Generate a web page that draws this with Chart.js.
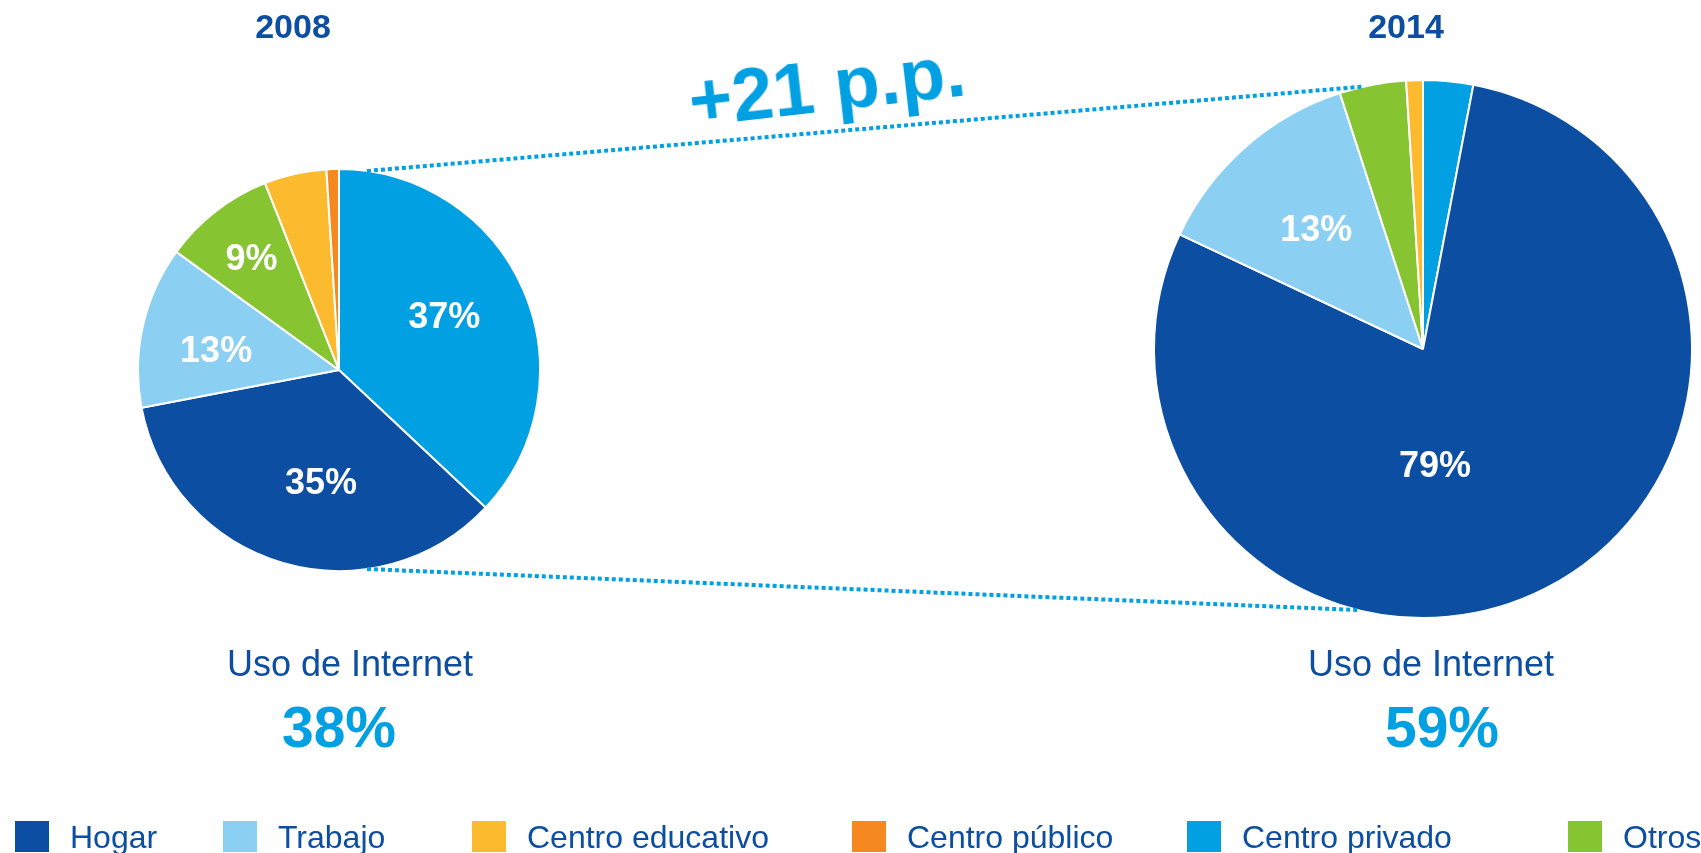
<!DOCTYPE html>
<html lang="es">
<head>
<meta charset="utf-8">
<title>Uso de Internet 2008 - 2014</title>
<script src="https://cdn.jsdelivr.net/npm/chart.js@4/dist/chart.umd.min.js"></script>
<style>
  html, body { margin: 0; padding: 0; background: #fff; }
  body { width: 1701px; height: 853px; position: relative; overflow: hidden;
         font-family: "Liberation Sans", Arial, sans-serif; }
  canvas.pie { position: absolute; }
  #overlay { position: absolute; left: 0; top: 0; pointer-events: none; }
  .txt { position: absolute; line-height: 1; white-space: nowrap; transform: translate(-50%, -50%); }
  .year { font-weight: bold; font-size: 34px; color: #0B4EA2; }
  .uso { font-size: 36px; color: #0B4EA2; }
  .pct { font-weight: bold; font-size: 57px; color: #00A0E3; }
  .diff { font-weight: bold; font-size: 74px; color: #00A0E3; transform: translate(-50%, -50%) rotate(-6.5deg); }
  .leg { position: absolute; top: 821px; height: 31px; display: flex; align-items: center; gap: 21px; white-space: nowrap; }
  .leg span.sw { display: block; width: 34px; height: 31px; }
  .leg span.lb { font-size: 32px; line-height: 1; color: #0B4EA2; }
</style>
</head>
<body>
<canvas id="pie2008" class="pie" width="404" height="404" style="left:137px; top:168px;"></canvas>
<canvas id="pie2014" class="pie" width="540" height="540" style="left:1153px; top:79px;"></canvas>
<canvas id="overlay" width="1701" height="853"></canvas>

<div class="txt year" style="left:293px; top:26px;" id="t2008"></div>
<div class="txt year" style="left:1406px; top:26px;" id="t2014"></div>
<div class="txt uso" style="left:350px; top:664px;" id="u2008"></div>
<div class="txt uso" style="left:1431px; top:664px;" id="u2014"></div>
<div class="txt pct" style="left:339px; top:727px;" id="p2008"></div>
<div class="txt pct" style="left:1442px; top:727px;" id="p2014"></div>
<div class="txt diff" style="left:827px; top:86px;" id="diff"></div>
<div id="legend"></div>

<script>
// Categorías (orden de la leyenda)
const categorias = ['Hogar', 'Trabajo', 'Centro educativo', 'Centro público', 'Centro privado', 'Otros'];
// Orden en que se dibujan los sectores (en sentido horario desde arriba)
const ordenSectores = ['Centro privado', 'Hogar', 'Trabajo', 'Otros', 'Centro educativo', 'Centro público'];
const valores2008 = [37, 35, 13, 9, 5, 1];
const valores2014 = [3, 79, 13, 4, 1, 0];
const anios = ['2008', '2014'];
const usoInternet = [38, 59];
const variacion = '+21 p.p.';
const tituloUso = 'Uso de Internet';

const colores = {
    'Hogar': '#0B4EA2',
    'Trabajo': '#8BD0F2',
    'Centro educativo': '#FCBA2E',
    'Centro público': '#F5891F',
    'Centro privado': '#00A0E3',
    'Otros': '#86C431'
};

// textos
document.getElementById('t2008').textContent = anios[0];
document.getElementById('t2014').textContent = anios[1];
document.getElementById('u2008').textContent = tituloUso;
document.getElementById('u2014').textContent = tituloUso;
document.getElementById('p2008').textContent = usoInternet[0] + '%';
document.getElementById('p2014').textContent = usoInternet[1] + '%';
document.getElementById('diff').textContent = variacion;

// leyenda
const legendX = [15, 223, 472, 852, 1187, 1568];
const legend = document.getElementById('legend');
categorias.forEach((cat, i) => {
    const item = document.createElement('div');
    item.className = 'leg';
    item.style.left = legendX[i] + 'px';
    item.innerHTML = '<span class="sw" style="background:' + colores[cat] + '"></span><span class="lb">' + cat + '</span>';
    legend.appendChild(item);
});

// etiquetas blancas dentro de los sectores
const etiquetasPlugin = {
    id: 'etiquetas',
    afterDatasetsDraw(chart, args, opts) {
        const ctx = chart.ctx;
        const meta = chart.getDatasetMeta(0);
        const data = chart.data.datasets[0].data;
        ctx.save();
        ctx.fillStyle = '#fff';
        ctx.font = 'bold 36px "Liberation Sans", Arial, sans-serif';
        ctx.textAlign = 'center';
        ctx.textBaseline = 'middle';
        meta.data.forEach((arc, i) => {
            if (data[i] < 8) return;
            const f = (opts.radio && opts.radio[i]) || 0.6;
            const giro = ((opts.giro && opts.giro[i]) || 0) * Math.PI / 180;
            const mid = (arc.startAngle + arc.endAngle) / 2 + giro;
            const x = arc.x + Math.cos(mid) * arc.outerRadius * f;
            const y = arc.y + Math.sin(mid) * arc.outerRadius * f;
            ctx.fillText(data[i] + '%', x, y + 3);
        });
        ctx.restore();
    }
};

function crearPie(id, valores, radio, giro) {
    const ctx = document.getElementById(id).getContext('2d');
    return new Chart(ctx, {
        type: 'pie',
        data: {
            labels: ordenSectores,
            datasets: [{
                data: valores,
                backgroundColor: ordenSectores.map(c => colores[c]),
                borderColor: '#fff',
                borderWidth: 2
            }]
        },
        options: {
            responsive: false,
            animation: false,
            layout: { padding: 0 },
            plugins: {
                legend: { display: false },
                tooltip: { enabled: false },
                etiquetas: { radio: radio, giro: giro }
            }
        },
        plugins: [etiquetasPlugin]
    });
}

const pie2008 = crearPie('pie2008', valores2008, [0.59, 0.56, 0.62, 0.71, 0.6, 0.6], [-4, -7, -3, 0, 0, 0]);
const pie2014 = crearPie('pie2014', valores2014, [0.6, 0.43, 0.6, 0.6, 0.6, 0.6], [0, 21, 0, 0, 0, 0]);

// líneas punteadas que unen los dos gráficos
function puntoBorde(chart, grados) {
    const arc = chart.getDatasetMeta(0).data[0];
    const cv = chart.canvas;
    const a = grados * Math.PI / 180;
    return {
        x: cv.offsetLeft + arc.x + Math.sin(a) * arc.outerRadius,
        y: cv.offsetTop + arc.y - Math.cos(a) * arc.outerRadius
    };
}

const ov = document.getElementById('overlay').getContext('2d');
ov.strokeStyle = '#00A0E3';
ov.lineWidth = 4;
ov.setLineDash([4, 3]);
[[8, -12.6], [172, 194]].forEach(([g1, g2]) => {
    const p1 = puntoBorde(pie2008, g1);
    const p2 = puntoBorde(pie2014, g2);
    ov.beginPath();
    ov.moveTo(p1.x, p1.y);
    ov.lineTo(p2.x, p2.y);
    ov.stroke();
});
</script>
</body>
</html>
